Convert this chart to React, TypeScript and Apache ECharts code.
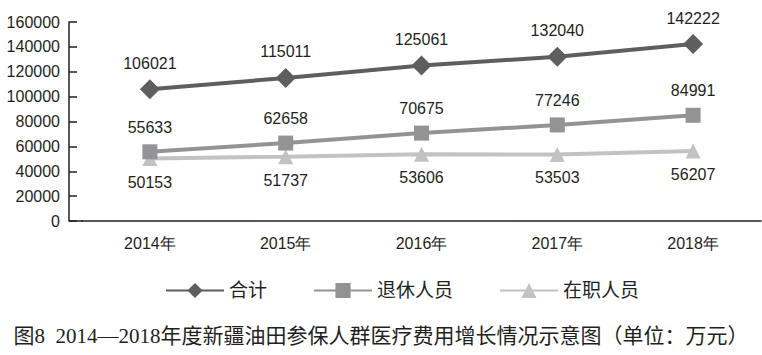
import React, { useEffect, useRef } from "react";
import * as echarts from "echarts";

const categories = ["2014年", "2015年", "2016年", "2017年", "2018年"];
const totalValues = [106021, 115011, 125061, 132040, 142222];
const retiredValues = [55633, 62658, 70675, 77246, 84991];
const activeValues = [50153, 51737, 53606, 53503, 56207];
const seriesNames = ["合计", "退休人员", "在职人员"];
const titleText = "图8  2014—2018年度新疆油田参保人群医疗费用增长情况示意图（单位：万元）";

const numFont = "'Liberation Sans', Arial, sans-serif";
const cjkFont = "'Liberation Serif', 'Noto Sans CJK SC', serif";

export default function App() {
  const ref = useRef<HTMLDivElement>(null);
  useEffect(() => {
    if (!ref.current) return;
    const chart = echarts.init(ref.current, undefined, { renderer: "svg" });
    const labelStyle = { fontFamily: numFont, fontSize: 16, color: "#231f20" };
    chart.setOption({
      animation: false,
      grid: { left: 82, right: 1, top: 22, bottom: 134, containLabel: false },
      legend: {
        data: seriesNames,
        top: 276,
        left: 160,
        itemWidth: 58,
        itemHeight: 19,
        itemGap: 46,
        textStyle: { fontFamily: cjkFont, fontSize: 19, color: "#231f20" },
      },
      title: {
        text: titleText,
        left: "center",
        top: 320,
        textStyle: { fontFamily: cjkFont, fontSize: 21, fontWeight: "normal", color: "#231f20" },
      },
      xAxis: {
        type: "category",
        data: categories,
        boundaryGap: true,
        axisLine: { lineStyle: { color: "#231f20", width: 1.5 } },
        axisTick: { show: false },
        axisLabel: { margin: 14, ...labelStyle },
      },
      yAxis: {
        type: "value",
        min: 0,
        max: 160000,
        interval: 20000,
        offset: 13,
        splitLine: { show: false },
        axisLine: { show: true, lineStyle: { color: "#231f20", width: 1.5 } },
        axisTick: { show: true, inside: true, length: 8, lineStyle: { color: "#231f20", width: 1.5 } },
        axisLabel: { margin: 9, formatter: (v: number) => String(v), ...labelStyle },
      },
      graphic: [
        {
          type: "line",
          shape: { x1: 69, y1: 221, x2: 83, y2: 221 },
          style: { stroke: "#231f20", lineWidth: 1.5 },
        },
      ],
      series: [
        {
          name: seriesNames[0],
          type: "line",
          data: totalValues,
          symbol: "diamond",
          symbolSize: 20,
          itemStyle: { color: "#5e5e60" },
          lineStyle: { color: "#5e5e60", width: 4 },
          label: { show: true, position: "top", distance: 8, ...labelStyle },
          z: 3,
        },
        {
          name: seriesNames[1],
          type: "line",
          data: retiredValues,
          symbol: "rect",
          symbolSize: 15,
          itemStyle: { color: "#939395" },
          lineStyle: { color: "#939395", width: 4 },
          label: { show: true, position: "top", distance: 9, ...labelStyle },
          z: 2,
        },
        {
          name: seriesNames[2],
          type: "line",
          data: activeValues,
          symbol: "triangle",
          symbolSize: 15,
          itemStyle: { color: "#c2c2c4" },
          lineStyle: { color: "#c2c2c4", width: 4 },
          label: { show: true, position: "bottom", distance: 8, ...labelStyle },
          z: 1,
        },
      ],
    });
    return () => chart.dispose();
  }, []);
  return <div ref={ref} style={{ width: 762, height: 355, position: "absolute", left: 0, top: 0 }} />;
}
